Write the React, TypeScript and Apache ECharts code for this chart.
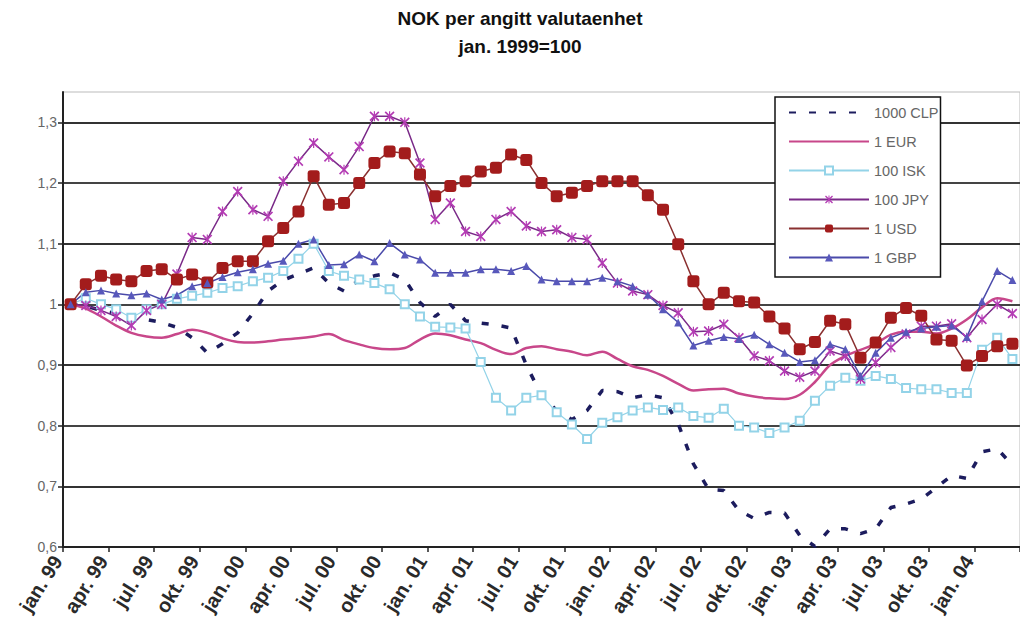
import React, { useEffect, useRef } from "react";
import * as echarts from "echarts";

const categories = [
  "jan. 99","feb. 99","mar. 99","apr. 99","mai. 99","jun. 99","jul. 99","aug. 99","sep. 99","okt. 99","nov. 99","des. 99",
  "jan. 00","feb. 00","mar. 00","apr. 00","mai. 00","jun. 00","jul. 00","aug. 00","sep. 00","okt. 00","nov. 00","des. 00",
  "jan. 01","feb. 01","mar. 01","apr. 01","mai. 01","jun. 01","jul. 01","aug. 01","sep. 01","okt. 01","nov. 01","des. 01",
  "jan. 02","feb. 02","mar. 02","apr. 02","mai. 02","jun. 02","jul. 02","aug. 02","sep. 02","okt. 02","nov. 02","des. 02",
  "jan. 03","feb. 03","mar. 03","apr. 03","mai. 03","jun. 03","jul. 03","aug. 03","sep. 03","okt. 03","nov. 03","des. 03",
  "jan. 04","feb. 04","mar. 04",
];

const clp = [
  1.0, 0.997, 0.99, 0.985, 0.978, 0.975, 0.97, 0.962, 0.945, 0.92, 0.935, 0.953,
  0.985, 1.022, 1.04, 1.05, 1.06, 1.035, 1.022, 1.04, 1.047, 1.052, 1.041, 1.003,
  0.98, 1.0, 0.973, 0.969, 0.966, 0.961, 0.9, 0.85, 0.825, 0.81, 0.825, 0.858,
  0.856, 0.846, 0.851, 0.846, 0.803, 0.737, 0.695, 0.693, 0.66, 0.647, 0.657, 0.656,
  0.619, 0.601, 0.63, 0.63, 0.622, 0.63, 0.665, 0.671, 0.679, 0.698, 0.718, 0.713,
  0.757, 0.762, 0.735,
];

const eur = [
  1.0, 0.993, 0.98, 0.965, 0.953, 0.947, 0.945, 0.951, 0.958, 0.953, 0.944, 0.938,
  0.937, 0.939, 0.942, 0.944, 0.947, 0.951, 0.941, 0.934, 0.928, 0.926, 0.928, 0.942,
  0.952, 0.949, 0.942, 0.936, 0.925, 0.918, 0.928, 0.931, 0.926, 0.922, 0.916, 0.922,
  0.91, 0.898, 0.892, 0.882, 0.869, 0.858, 0.86, 0.861, 0.853, 0.848, 0.845, 0.844,
  0.851, 0.872, 0.9, 0.915, 0.925, 0.935, 0.95, 0.955, 0.955, 0.952, 0.96, 0.975,
  0.995, 1.01, 1.005,
];

const isk = [
  1.0, 1.01, 1.0, 0.992, 0.978, 0.992, 1.0, 1.009, 1.014, 1.019, 1.027, 1.03,
  1.038, 1.044, 1.055, 1.075, 1.1, 1.055, 1.047, 1.041, 1.035, 1.025, 1.0, 0.98,
  0.963, 0.962, 0.96, 0.905, 0.846, 0.825, 0.846, 0.85, 0.822, 0.802, 0.778, 0.805,
  0.814, 0.825, 0.83, 0.826, 0.83, 0.816, 0.813, 0.828, 0.8, 0.797, 0.788, 0.797,
  0.808, 0.841, 0.866, 0.879, 0.874, 0.882, 0.877, 0.862, 0.86, 0.86, 0.854, 0.854,
  0.925, 0.945, 0.91,
];

const jpy = [
  1.0, 0.998, 0.99, 0.98, 0.965, 0.99, 1.0, 1.05, 1.11, 1.107, 1.153, 1.186,
  1.156, 1.145, 1.203, 1.236, 1.266, 1.243, 1.222, 1.26, 1.31, 1.31, 1.3, 1.233,
  1.14, 1.167, 1.12, 1.112, 1.14, 1.153, 1.129, 1.12, 1.123, 1.11, 1.107, 1.068,
  1.035, 1.022, 1.016, 0.998, 0.986, 0.955, 0.956, 0.967, 0.945, 0.915, 0.907, 0.89,
  0.88, 0.89, 0.923, 0.915, 0.877, 0.904, 0.929, 0.951, 0.964, 0.964, 0.968, 0.945,
  0.975, 1.0, 0.985,
];

const usd = [
  1.0, 1.033, 1.047, 1.041, 1.038, 1.055, 1.058, 1.041, 1.049, 1.036, 1.06, 1.071,
  1.071, 1.104, 1.126, 1.153, 1.211, 1.164, 1.167, 1.2, 1.233, 1.252, 1.249, 1.214,
  1.178, 1.195, 1.203, 1.219, 1.225, 1.247, 1.238, 1.2, 1.178, 1.184, 1.195, 1.203,
  1.203, 1.203, 1.18, 1.156, 1.099, 1.038, 1.0, 1.019, 1.005, 1.003, 0.98, 0.96,
  0.926, 0.938, 0.973, 0.967, 0.912, 0.937, 0.978, 0.994, 0.981, 0.942, 0.94, 0.899,
  0.915, 0.931, 0.935,
];

const gbp = [
  1.0, 1.02, 1.023, 1.018, 1.015, 1.018, 1.008, 1.015, 1.03, 1.035, 1.045, 1.053,
  1.058, 1.067, 1.072, 1.1, 1.107, 1.065, 1.066, 1.082, 1.071, 1.101, 1.082, 1.074,
  1.052, 1.052, 1.052, 1.058, 1.058, 1.055, 1.063, 1.041, 1.038, 1.038, 1.038, 1.044,
  1.038, 1.03, 1.016, 0.992, 0.97, 0.932, 0.94, 0.946, 0.943, 0.95, 0.934, 0.92,
  0.905, 0.908, 0.934, 0.926, 0.882, 0.92, 0.945, 0.955, 0.96, 0.963, 0.965, 0.946,
  1.005, 1.055, 1.04,
];

const yTicks = [0.6, 0.7, 0.8, 0.9, 1.0, 1.1, 1.2, 1.3];

const starPath =
  "path://M0,1.2L1.2,0L5,3.8L8.8,0L10,1.2L6.2,5L10,8.8L8.8,10L5,6.2L1.2,10L0,8.8L3.8,5Z" +
  "M4.4,0L5.6,0L5.6,10L4.4,10Z";

export default function App() {
  const ref = useRef<HTMLDivElement>(null);

  useEffect(() => {
    if (!ref.current) return;
    const chart = echarts.init(ref.current, null, { renderer: "svg" });
    const font = "Liberation Sans, Arial, sans-serif";
    const none = "rgba(0,0,0,0)";
    chart.setOption({
      animation: false,
      backgroundColor: "#fff",
      title: {
        text: "NOK per angitt valutaenhet\njan. 1999=100",
        left: 520,
        top: 4,
        padding: 0,
        textAlign: "center",
        textStyle: {
          fontFamily: font,
          fontSize: 19,
          fontWeight: "bold",
          color: "#111",
          lineHeight: 28,
        },
      },
      legend: {
        orient: "vertical",
        left: 775,
        top: 97,
        itemWidth: 80,
        itemHeight: 10,
        itemGap: 14,
        padding: [8, 2, 12, 13],
        backgroundColor: "#fff",
        borderColor: "#111",
        borderWidth: 1.5,
        borderRadius: 0,
        textStyle: { fontFamily: font, fontSize: 14.5, lineHeight: 14, color: "#666" },
        data: ["1000 CLP", "1 EUR", "100 ISK", "100 JPY", "1 USD", "1 GBP"],
      },
      grid: {
        left: 63,
        top: 92,
        bottom: 87,
        right: -13,
        show: true,
        borderColor: "#bbb",
        borderWidth: 1,
        backgroundColor: "#fff",
      },
      xAxis: {
        type: "category",
        data: categories,
        boundaryGap: true,
        axisLine: { show: true, lineStyle: { color: "#222", width: 2 } },
        axisTick: { show: true, interval: 2, length: 5, lineStyle: { color: "#222", width: 1.5 } },
        axisLabel: {
          interval: 2,
          rotate: 58,
          margin: 8,
          verticalAlign: "bottom",
          padding: [0, 9, 0, 0],
          fontFamily: font,
          fontSize: 20,
          fontWeight: "bold",
          color: "#2a2a2a",
        },
        splitLine: { show: false },
      },
      yAxis: {
        type: "value",
        min: 0.6,
        max: 1.35,
        interval: 0.1,
        axisLine: { show: true, lineStyle: { color: "#222", width: 2 } },
        axisTick: {
          show: true,
          length: 5,
          customValues: yTicks,
          lineStyle: { color: "#222", width: 1.5 },
        },
        axisLabel: {
          customValues: yTicks,
          margin: 6,
          fontFamily: font,
          fontSize: 14,
          color: "#666",
          formatter: (v: number) => String(Math.round(v * 10) / 10).replace(".", ","),
        },
        splitLine: {
          show: true,
          lineStyle: {
            color: ["#333", "#333", "#444", "#333", "#444", "#333", "#444", "#333", "transparent"],
            width: 2,
          },
        },
      },
      series: [
        {
          name: "1000 CLP",
          type: "line",
          data: clp,
          symbol: "none",
          lineStyle: { color: "#1c1c5e", width: 3.5, type: [7, 13] },
          itemStyle: { color: none },
        },
        {
          name: "1 EUR",
          type: "line",
          data: eur,
          symbol: "none",
          smooth: 0.35,
          lineStyle: { color: "#c8478a", width: 2.5 },
          itemStyle: { color: none },
        },
        {
          name: "100 ISK",
          type: "line",
          data: isk,
          symbol: "emptyRect",
          symbolSize: 8,
          showAllSymbol: true,
          lineStyle: { color: "#93d3e8", width: 1.2 },
          itemStyle: { color: "#93d3e8", borderWidth: 1.2 },
        },
        {
          name: "100 JPY",
          type: "line",
          data: jpy,
          symbol: starPath,
          symbolSize: 10,
          showAllSymbol: true,
          lineStyle: { color: "#7a2a88", width: 1.5 },
          itemStyle: { color: "#b43cb4" },
        },
        {
          name: "1 USD",
          type: "line",
          data: usd,
          symbol: "roundRect",
          symbolSize: 12,
          showAllSymbol: true,
          lineStyle: { color: "#8a3030", width: 1.5 },
          itemStyle: { color: "#a31c1c" },
        },
        {
          name: "1 GBP",
          type: "line",
          data: gbp,
          symbol: "triangle",
          symbolSize: 8,
          showAllSymbol: true,
          lineStyle: { color: "#4a4aaa", width: 1.5 },
          itemStyle: { color: "#5858bb" },
        },
      ],
    });
    return () => chart.dispose();
  }, []);

  return (
    <div
      ref={ref}
      style={{ position: "absolute", left: 0, top: 0, width: 1020, height: 634 }}
    />
  );
}
